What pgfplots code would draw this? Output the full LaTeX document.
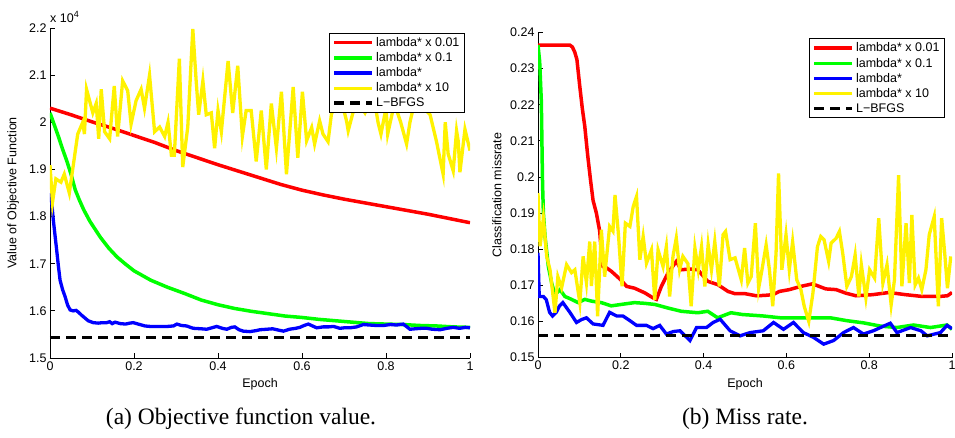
\documentclass[border=0pt]{standalone}
\usepackage{pgfplots}
\pgfplotsset{compat=1.18}
\usepackage{fontspec}
\setmainfont{Liberation Sans}
\newfontfamily\capfont{Liberation Serif}
\begin{document}
\begin{tikzpicture}
\useasboundingbox (0,0) rectangle (955pt,-437pt);
\pgfplotsset{
  every axis/.append style={
    scale only axis,
    axis lines*=left,
    axis line style={-, line width=0.8pt},
    tick align=inside,
    major tick length=5pt,
    tick style={line width=0.8pt, black},
    font=\fontsize{12.5}{15}\selectfont,
    ticklabel style={font=\fontsize{12.5}{15}\selectfont},
    /pgf/number format/assume math mode=true,
    xmin=0, xmax=1,
    xtick={0,0.2,0.4,0.6,0.8,1},
    xticklabels={0,0.2,0.4,0.6,0.8,1},
    legend cell align=left,
    legend image code/.code={\draw[#1] (0pt,0pt) -- (38pt,0pt);},
    legend style={draw=black, line width=1pt, fill=white,
      font=\fontsize{12.5}{15}\selectfont, inner xsep=3pt, inner ysep=2pt,
      row sep=0.6pt, anchor=north east,
      nodes={inner sep=2pt}},
  },
  r/.style={red, line width=3.5pt},
  g/.style={green, line width=3.5pt},
  b/.style={blue, line width=3.3pt},
  yy/.style={yellow, line width=3.3pt},
  k/.style={black, line width=3.5pt, dash pattern=on 10pt off 6pt},
}
\begin{axis}[
  at={(50pt,-358pt)}, anchor=south west,
  width=420pt, height=330pt,
  ymin=1.5, ymax=2.2,
  ytick={1.5,1.6,1.7,1.8,1.9,2.0,2.1,2.2},
  yticklabels={1.5,1.6,1.7,1.8,1.9,2,2.1,2.2},
  xlabel={Epoch},
  xlabel style={at={(axis description cs:0.5,-0.079)}, anchor=center},
  ylabel={Value of Objective Function},
  ylabel style={at={(axis description cs:-0.088,0.5)}, anchor=center, rotate=0},
  legend style={at={(axis description cs:0.988,0.985)}},
]
\addplot[r] coordinates {(0,2.030)(0.05,2.016)(0.1,2.001)(0.15,1.987)(0.2,1.972)(0.25,1.957)(0.3,1.940)(0.35,1.925)(0.4,1.910)(0.45,1.896)(0.5,1.882)(0.55,1.868)(0.6,1.856)(0.65,1.846)(0.7,1.837)(0.75,1.829)(0.8,1.821)(0.85,1.813)(0.9,1.805)(0.95,1.796)(1.0,1.787)};
\addlegendentry{lambda* x 0.01}
\addplot[g] coordinates {(0,2.02)(0.01,1.995)(0.02,1.97)(0.03,1.943)(0.04,1.918)(0.05,1.89)(0.06,1.857)(0.07,1.835)(0.08,1.815)(0.095,1.79)(0.12,1.756)(0.14,1.733)(0.16,1.714)(0.18,1.699)(0.2,1.685)(0.24,1.665)(0.28,1.650)(0.32,1.637)(0.36,1.623)(0.4,1.613)(0.44,1.605)(0.48,1.599)(0.52,1.594)(0.56,1.589)(0.6,1.586)(0.64,1.582)(0.68,1.579)(0.72,1.576)(0.76,1.573)(0.8,1.572)(0.84,1.571)(0.88,1.569)(0.92,1.568)(0.96,1.566)(1,1.565)};
\addlegendentry{lambda* x 0.1}
\addplot[b] coordinates {(0,1.850)(0.004,1.830)(0.008,1.792)(0.012,1.760)(0.016,1.728)(0.020,1.695)(0.024,1.665)(0.030,1.645)(0.036,1.630)(0.042,1.612)(0.048,1.602)(0.055,1.600)(0.062,1.601)(0.068,1.597)(0.075,1.591)(0.083,1.585)(0.091,1.579)(0.103,1.575)(0.115,1.574)(0.125,1.575)(0.135,1.575)(0.142,1.577)(0.148,1.573)(0.155,1.576)(0.167,1.573)(0.18,1.572)(0.19,1.574)(0.198,1.575)(0.214,1.571)(0.226,1.568)(0.238,1.567)(0.26,1.567)(0.28,1.567)(0.294,1.568)(0.302,1.572)(0.313,1.569)(0.325,1.568)(0.341,1.563)(0.36,1.562)(0.373,1.561)(0.385,1.564)(0.397,1.567)(0.41,1.563)(0.421,1.561)(0.432,1.565)(0.44,1.566)(0.45,1.560)(0.46,1.557)(0.476,1.556)(0.49,1.558)(0.5,1.560)(0.516,1.561)(0.53,1.562)(0.545,1.559)(0.556,1.557)(0.57,1.561)(0.585,1.563)(0.595,1.565)(0.605,1.569)(0.615,1.572)(0.625,1.568)(0.635,1.564)(0.65,1.566)(0.663,1.566)(0.675,1.567)(0.69,1.563)(0.7,1.564)(0.714,1.564)(0.73,1.566)(0.746,1.571)(0.76,1.570)(0.777,1.569)(0.794,1.569)(0.81,1.571)(0.825,1.570)(0.841,1.572)(0.85,1.566)(0.857,1.561)(0.87,1.562)(0.884,1.563)(0.897,1.563)(0.91,1.561)(0.929,1.560)(0.945,1.563)(0.96,1.565)(0.975,1.563)(0.99,1.565)(1,1.564)};
\addlegendentry{lambda*}
\addplot[yy] coordinates {(0,1.909)(0.006,1.83)(0.014,1.88)(0.026,1.873)(0.034,1.89)(0.046,1.85)(0.058,1.925)(0.066,1.975)(0.078,2.0)(0.082,1.975)(0.087,2.07)(0.102,2.02)(0.110,2.04)(0.116,1.965)(0.122,2.07)(0.130,1.98)(0.142,1.965)(0.153,2.077)(0.161,1.97)(0.173,2.088)(0.185,2.067)(0.193,1.996)(0.205,2.046)(0.217,2.07)(0.225,2.03)(0.237,2.1)(0.249,1.98)(0.261,1.99)(0.273,1.97)(0.281,2.0)(0.289,1.93)(0.296,1.93)(0.308,2.135)(0.316,1.905)(0.328,1.99)(0.340,2.198)(0.348,2.088)(0.354,2.016)(0.364,2.088)(0.372,2.016)(0.384,2.02)(0.392,1.945)(0.400,2.025)(0.408,1.98)(0.424,2.13)(0.435,2.02)(0.447,2.12)(0.458,1.97)(0.467,2.025)(0.479,2.025)(0.491,1.917)(0.503,2.025)(0.515,1.9)(0.527,2.04)(0.539,1.945)(0.551,2.065)(0.563,1.89)(0.579,2.075)(0.590,1.925)(0.601,2.065)(0.611,1.961)(0.623,1.989)(0.630,1.954)(0.642,2.003)(0.650,1.975)(0.662,1.959)(0.670,2.017)(0.69,2.06)(0.706,2.003)(0.71,1.982)(0.73,2.05)(0.75,2.02)(0.77,2.06)(0.781,2.0)(0.788,1.975)(0.80,2.03)(0.804,1.975)(0.82,2.04)(0.835,2.0)(0.849,1.954)(0.857,2.0)(0.87,2.05)(0.89,2.03)(0.905,2.016)(0.92,1.96)(0.936,1.89)(0.941,2.0)(0.948,1.933)(0.960,1.897)(0.968,1.982)(0.972,1.96)(0.976,1.894)(0.988,1.985)(0.996,1.955)(1.0,1.94)};
\addlegendentry{lambda* x 10}
\addplot[k] coordinates {(0,1.5435)(1,1.5435)};
\addlegendentry{L−BFGS}
\end{axis}
\node[anchor=base west, inner sep=0pt, font=\fontsize{12.5}{15}\selectfont] at (50pt,-22pt) {x 10\raisebox{5pt}{\fontsize{9}{10}\selectfont 4}};
\begin{axis}[
  at={(538pt,-357.5pt)}, anchor=south west,
  width=414pt, height=325pt,
  ymin=0.15, ymax=0.24,
  ytick={0.15,0.16,0.17,0.18,0.19,0.20,0.21,0.22,0.23,0.24},
  yticklabels={0.15,0.16,0.17,0.18,0.19,0.2,0.21,0.22,0.23,0.24},
  xlabel={Epoch},
  xlabel style={at={(axis description cs:0.5,-0.0815)}, anchor=center},
  ylabel={Classification missrate},
  ylabel style={at={(axis description cs:-0.099,0.5)}, anchor=center},
  legend style={at={(axis description cs:0.983,0.982)}},
]
\addplot[r] coordinates {(0,.2365)(0.04,.2365)(0.077,.2365)(0.083,.2360)(0.089,.2345)(0.094,.2325)(0.101,.2250)(0.107,.2190)(0.113,.2140)(0.120,.2060)(0.127,.1990)(0.133,.1935)(0.141,.1900)(0.149,.1850)(0.153,.1790)(0.157,.1752)(0.166,.1748)(0.178,.1738)(0.2,.1715)(0.214,.1697)(0.233,.1692)(0.258,.1679)(0.278,.1665)(0.286,.1661)(0.298,.1697)(0.314,.1734)(0.334,.1766)(0.346,.1743)(0.366,.1745)(0.386,.1743)(0.41,.1711)(0.434,.1702)(0.459,.1683)(0.475,.1677)(0.499,.1677)(0.527,.1671)(0.547,.1672)(0.567,.1674)(0.583,.1683)(0.607,.1688)(0.635,.1697)(0.663,.1704)(0.695,.1690)(0.72,.1688)(0.744,.1678)(0.768,.1671)(0.808,.1674)(0.848,.1680)(0.888,.1674)(0.929,.1669)(0.969,.1669)(0.989,.1671)(1,.1680)};
\addlegendentry{lambda* x 0.01}
\addplot[g] coordinates {(0,.2365)(0.004,.232)(0.008,.221)(0.011,.198)(0.013,.190)(0.017,.1835)(0.025,.1752)(0.033,.1706)(0.041,.1674)(0.053,.1688)(0.065,.1669)(0.081,.1661)(0.097,.1652)(0.113,.1661)(0.13,.1656)(0.153,.1652)(0.177,.1643)(0.201,.1647)(0.233,.1652)(0.258,.1650)(0.282,.1647)(0.314,.1637)(0.346,.1628)(0.386,.1624)(0.41,.1628)(0.434,.1610)(0.466,.1624)(0.494,.1619)(0.52,.1617)(0.544,.1615)(0.585,.1610)(0.625,.1610)(0.665,.1610)(0.706,.1610)(0.746,.1602)(0.786,.1596)(0.827,.1587)(0.867,.1583)(0.907,.1590)(0.948,.1583)(0.988,.1590)(1,.1578)};
\addlegendentry{lambda* x 0.1}
\addplot[b] coordinates {(0,.1790)(0.003,.1669)(0.013,.1669)(0.02,.1660)(0.028,.1625)(0.035,.1615)(0.044,.1625)(0.052,.1643)(0.06,.1652)(0.077,.1625)(0.093,.1597)(0.105,.1605)(0.117,.1610)(0.133,.1593)(0.157,.1589)(0.173,.1625)(0.19,.1615)(0.205,.1615)(0.222,.1602)(0.238,.1589)(0.262,.1589)(0.278,.1580)(0.294,.1589)(0.31,.1565)(0.327,.1572)(0.343,.1574)(0.367,.1547)(0.383,.1583)(0.407,.1583)(0.423,.1597)(0.44,.1606)(0.464,.1574)(0.488,.1560)(0.512,.1569)(0.544,.1574)(0.569,.1597)(0.593,.1578)(0.617,.1597)(0.641,.1569)(0.665,.1556)(0.69,.1537)(0.714,.1547)(0.738,.1569)(0.762,.1583)(0.786,.1565)(0.81,.1574)(0.835,.1587)(0.851,.1595)(0.867,.1569)(0.9,.1583)(0.925,.1574)(0.94,.1560)(0.972,.1569)(0.988,.1589)(1,.1580)};
\addlegendentry{lambda*}
\addplot[yy] coordinates {(0,.1955)(0.005,.1808)(0.013,.1886)(0.021,.1780)(0.029,.1743)(0.041,.1624)(0.048,.1724)(0.057,.1693)(0.069,.1757)(0.081,.1735)(0.089,.1743)(0.101,.1652)(0.109,.1780)(0.117,.1707)(0.125,.1821)(0.129,.1698)(0.137,.1821)(0.144,.1614)(0.153,.1854)(0.161,.1724)(0.173,.1863)(0.181,.1850)(0.186,.1950)(0.194,.1845)(0.203,.1697)(0.211,.1872)(0.222,.1863)(0.230,.1918)(0.238,.1946)(0.246,.1771)(0.254,.1835)(0.262,.1761)(0.274,.1798)(0.282,.1660)(0.290,.1798)(0.302,.1752)(0.310,.1807)(0.318,.1669)(0.326,.1780)(0.334,.1831)(0.342,.1743)(0.350,.1780)(0.362,.1760)(0.370,.1642)(0.379,.1803)(0.387,.1743)(0.395,.1807)(0.403,.1697)(0.411,.1812)(0.419,.1743)(0.427,.1821)(0.438,.1697)(0.447,.1840)(0.453,.1849)(0.464,.1771)(0.476,.1776)(0.491,.1715)(0.499,.1803)(0.507,.1706)(0.515,.1724)(0.525,.1872)(0.533,.1692)(0.541,.1743)(0.551,.1812)(0.559,.1743)(0.567,.1642)(0.575,.1789)(0.581,.2010)(0.589,.1743)(0.599,.1840)(0.607,.1743)(0.615,.1821)(0.625,.1715)(0.635,.1688)(0.643,.1642)(0.654,.1600)(0.664,.1678)(0.675,.1807)(0.683,.1835)(0.691,.1826)(0.702,.1766)(0.708,.1817)(0.720,.1830)(0.728,.1849)(0.736,.1789)(0.746,.1697)(0.757,.1724)(0.766,.1784)(0.775,.1669)(0.781,.1757)(0.792,.1665)(0.801,.1743)(0.813,.1720)(0.823,.1886)(0.833,.1706)(0.843,.1757)(0.853,.1646)(0.861,.1715)(0.871,.2005)(0.879,.1697)(0.889,.1872)(0.897,.1706)(0.903,.1895)(0.911,.1701)(0.919,.1720)(0.927,.1688)(0.937,.1743)(0.945,.1840)(0.957,.1890)(0.967,.1642)(0.975,.1886)(0.983,.1780)(0.989,.1692)(0.997,.1780)};
\addlegendentry{lambda* x 10}
\addplot[k] coordinates {(0,.1561)(1,.1561)};
\addlegendentry{L−BFGS}
\end{axis}
\node[font=\capfont\fontsize{23.5}{26}\selectfont, anchor=base] at (241pt,-424pt) {(a) Objective function value.};
\node[font=\capfont\fontsize{23.5}{26}\selectfont, anchor=base] at (745pt,-424pt) {(b) Miss rate.};
\end{tikzpicture}
\end{document}
